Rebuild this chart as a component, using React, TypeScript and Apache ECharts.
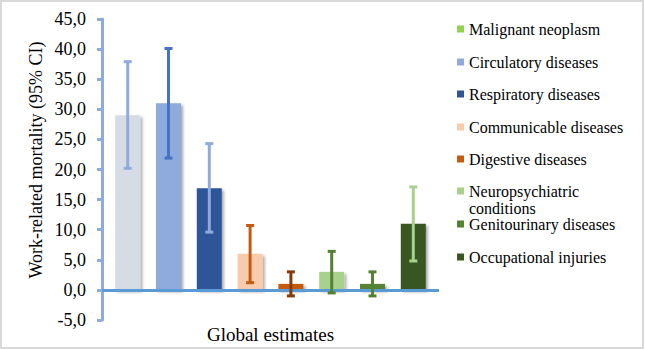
import React, { useEffect, useRef } from "react";
import * as echarts from "echarts";

const categories = ["Global estimates"];
const seriesNames = [
  "Malignant neoplasm",
  "Circulatory diseases",
  "Respiratory diseases",
  "Communicable diseases",
  "Digestive diseases",
  "Neuropsychiatric conditions",
  "Genitourinary diseases",
  "Occupational injuries",
];
const values = [29.0, 31.0, 16.9, 6.0, 1.0, 3.0, 1.0, 11.0];
const ciLow = [20.2, 21.9, 9.6, 1.2, -1.0, -0.5, -1.0, 4.8];
const ciHigh = [37.9, 40.1, 24.3, 10.7, 3.0, 6.4, 3.0, 17.1];
const yTicks = { min: -5, max: 45, interval: 5 };
const legendLabels = [
  "Malignant neoplasm",
  "Circulatory diseases",
  "Respiratory diseases",
  "Communicable diseases",
  "Digestive diseases",
  "Neuropsychiatric\nconditions",
  "Genitourinary diseases",
  "Occupational injuries",
];

const barColors = ["#D6DCE5", "#8FAADC", "#2F5597", "#F8CBAD", "#C55A11", "#A9D18E", "#548235", "#385723"];
const errColors = ["#8FAADC", "#4472C4", "#8FAADC", "#C55A11", "#843C0C", "#548235", "#548235", "#A9D18E"];
const legendColors = ["#92D050", "#8FAADC", "#2F5597", "#F8CBAD", "#C55A11", "#A9D18E", "#548235", "#385723"];
const legendY = [29, 62, 94, 127, 159, 191, 224, 257];

const FONT = "Liberation Serif, Times New Roman, serif";
const BAR_W = 25;
const GAP = 15.8;

export default function App() {
  const ref = useRef<HTMLDivElement>(null);
  useEffect(() => {
    if (!ref.current) return;
    const chart = echarts.init(ref.current, undefined, { renderer: "svg" });
    const n = values.length;
    const step = BAR_W + GAP;

    const barSeries: any[] = values.map((v, i) => ({
      name: seriesNames[i],
      type: "bar",
      data: [v],
      barWidth: BAR_W,
      barGap: (GAP / BAR_W) * 100 + "%",
      itemStyle: {
        color: barColors[i],
        shadowColor: "rgba(0,0,0,0.35)",
        shadowBlur: 3,
        shadowOffsetX: 2,
        shadowOffsetY: 2,
      },
      z: 2,
    }));

    const errData = values.map((_, i) => [0, ciLow[i], ciHigh[i], i]);

    const errSeries = {
      type: "custom",
      name: "CI",
      z: 4,
      data: errData,
      encode: { x: 0, y: [1, 2] },
      renderItem: (params: any, api: any) => {
        const idx = api.value(3);
        const center = api.coord([api.value(0), 0])[0];
        const x = center + (idx - (n - 1) / 2) * step;
        const lo = api.coord([api.value(0), api.value(1)])[1];
        const hi = api.coord([api.value(0), api.value(2)])[1];
        const c = errColors[idx];
        const st = { stroke: c, lineWidth: 3 };
        const cap = 4;
        return {
          type: "group",
          children: [
            { type: "line", shape: { x1: x, y1: lo, x2: x, y2: hi }, style: st },
            { type: "line", shape: { x1: x - cap, y1: hi, x2: x + cap, y2: hi }, style: st },
            { type: "line", shape: { x1: x - cap, y1: lo, x2: x + cap, y2: lo }, style: st },
          ],
        };
      },
      markLine: {
        silent: true,
        symbol: "none",
        label: { show: false },
        lineStyle: { color: "#5B9BD5", width: 3, type: "solid" },
        data: [{ yAxis: 0 }],
        z: 3,
      },
    };

    const graphics: any[] = [
      {
        type: "rect",
        shape: { x: 1, y: 1, width: 642, height: 347 },
        style: { fill: "none", stroke: "#D9D9D9", lineWidth: 2 },
        silent: true,
      },
      {
        type: "text",
        x: 36,
        y: 160,
        rotation: Math.PI / 2,
        style: {
          text: "Work-related mortality (95% CI)",
          fontSize: 18,
          fontFamily: FONT,
          fill: "#000",
          align: "center",
          verticalAlign: "middle",
        },
      },
    ];
    legendLabels.forEach((lab, i) => {
      const multi = lab.indexOf("\n") >= 0;
      const lh = multi ? 17 : 15;
      graphics.push({
        type: "rect",
        shape: { x: 457, y: legendY[i] - 3.5, width: 7, height: 7 },
        style: { fill: legendColors[i] },
      });
      graphics.push({
        type: "text",
        x: 469,
        y: legendY[i] - lh / 2,
        style: {
          text: lab,
          fontSize: 16,
          fontFamily: FONT,
          fill: "#000",
          align: "left",
          verticalAlign: "top",
          lineHeight: lh,
        },
      });
    });

    chart.setOption({
      animation: false,
      textStyle: { fontFamily: FONT },
      grid: { left: 102, right: 206, top: 19, bottom: 30, containLabel: false },
      xAxis: {
        type: "category",
        data: categories,
        axisLine: { show: false, onZero: false },
        axisTick: { show: false },
        axisLabel: { margin: 5, fontSize: 19, fontFamily: FONT, color: "#000" },
      },
      yAxis: {
        type: "value",
        min: yTicks.min,
        max: yTicks.max,
        interval: yTicks.interval,
        axisLine: { show: true, lineStyle: { color: "#8FAADC", width: 3 } },
        axisTick: { show: true, length: 5, lineStyle: { color: "#8FAADC", width: 3 } },
        splitLine: { show: false },
        axisLabel: {
          margin: 16,
          fontSize: 18,
          fontFamily: FONT,
          color: "#000",
          formatter: (v: number) => v.toFixed(1).replace(".", ","),
        },
      },
      series: [...barSeries, errSeries],
      graphic: graphics,
    });
    return () => chart.dispose();
  }, []);
  return (
    <div
      ref={ref}
      style={{ position: "absolute", left: 0, top: 0, width: 645, height: 350, background: "#fff" }}
    />
  );
}
